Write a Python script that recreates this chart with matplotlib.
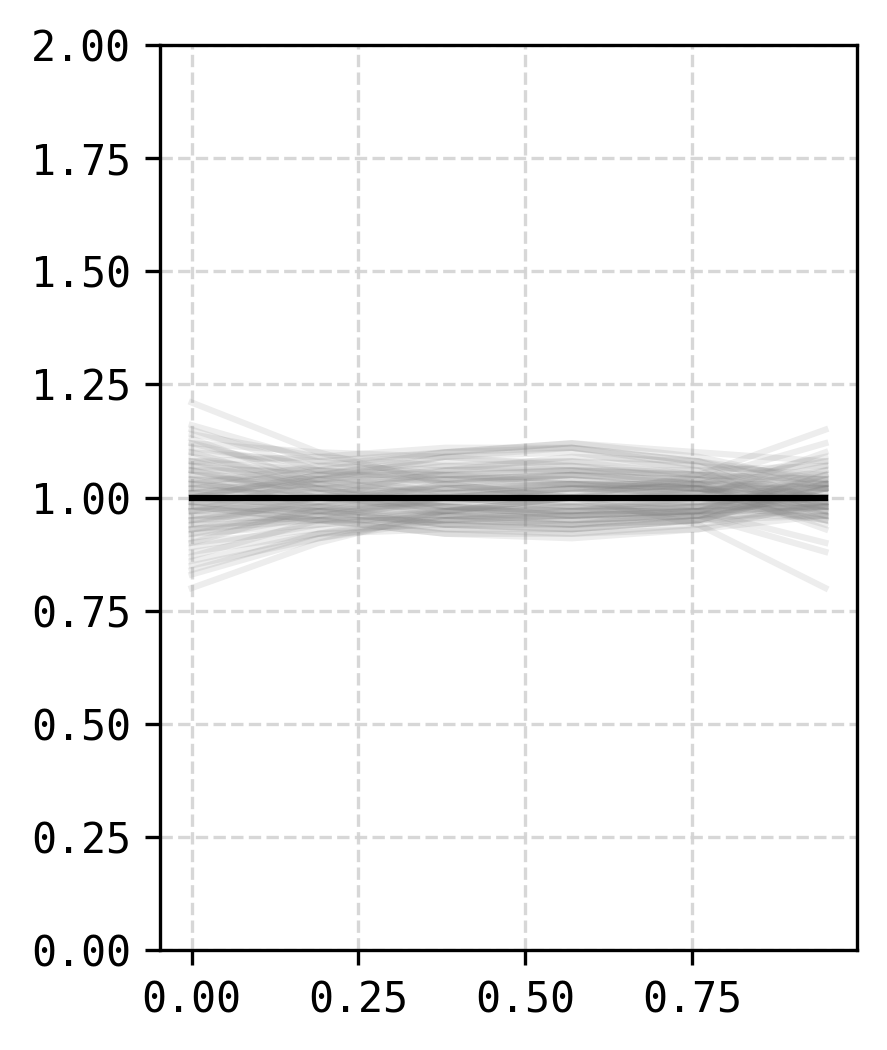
import numpy as np
import matplotlib
matplotlib.use("Agg")
import matplotlib.pyplot as plt

x_knots = [0.0, 0.19, 0.38, 0.57, 0.76, 0.95]

# curve values at each knot (one entry per grey curve)
y_at_000 = [1.21, 0.80, 1.15, 0.83, 1.10, 0.86, 1.05, 0.95, 1.02, 0.97, 1.08, 0.92, 1.12, 0.90, 1.00,
            0.98, 1.06, 0.94, 1.03, 0.99, 1.14, 0.88, 1.01, 0.96, 1.09, 0.91, 1.04, 0.97, 1.07, 0.93,
            1.00, 1.02, 1.16, 0.84, 1.03, 0.98, 1.06, 0.95, 1.00, 0.99, 1.11, 0.89, 1.05, 0.95, 1.08,
            0.92, 1.01, 0.99, 1.13, 0.87, 1.03, 0.97, 1.04, 0.96, 1.07, 0.93, 1.01, 0.99, 1.10, 0.90,
            1.02, 0.98, 0.97, 1.04, 1.08, 0.93, 1.00, 1.06, 0.85, 1.12, 0.94, 1.01]
y_at_019 = [1.10, 0.90, 1.06, 0.91, 1.08, 0.92, 1.04, 0.96, 1.00, 0.99, 1.02, 0.97, 1.05, 0.93, 1.02,
            0.97, 1.06, 0.95, 1.01, 1.00, 1.09, 0.92, 1.03, 0.95, 1.04, 0.96, 1.04, 0.97, 1.03, 0.97,
            0.98, 1.03, 1.08, 0.92, 1.07, 0.95, 1.00, 0.99, 1.05, 0.97, 1.07, 0.94, 1.02, 0.98, 1.06,
            0.94, 1.04, 0.96, 1.03, 0.95, 1.00, 1.00, 1.02, 0.98, 1.05, 0.95, 1.01, 0.99, 1.02, 0.98,
            1.06, 0.95, 1.04, 0.98, 1.09, 0.96, 1.05, 1.01, 0.91, 1.10, 1.00, 0.97]
y_at_038 = [1.03, 0.97, 1.04, 0.96, 1.10, 0.97, 1.06, 0.95, 0.98, 1.01, 0.98, 1.01, 1.01, 0.94, 1.04,
            0.96, 1.05, 0.97, 1.00, 1.02, 1.07, 0.93, 1.05, 0.95, 1.00, 1.00, 1.04, 0.97, 1.02, 0.99,
            0.96, 1.04, 1.05, 0.95, 1.10, 0.92, 0.97, 1.03, 1.08, 0.94, 1.06, 0.96, 1.01, 0.99, 1.03,
            0.97, 1.07, 0.93, 0.98, 1.00, 1.00, 1.00, 1.02, 0.98, 1.05, 0.95, 1.02, 0.98, 0.97, 1.03,
            1.10, 0.92, 1.09, 0.94, 1.11, 0.99, 1.09, 0.96, 0.95, 1.09, 1.06, 0.94]
y_at_057 = [1.00, 1.00, 1.05, 0.98, 1.12, 1.00, 1.07, 0.94, 0.97, 1.02, 0.96, 1.03, 1.00, 0.95, 1.05,
            0.96, 1.03, 0.99, 1.00, 1.03, 1.06, 0.93, 1.06, 0.96, 0.98, 1.02, 1.03, 0.98, 1.02, 1.00,
            0.95, 1.04, 1.04, 0.96, 1.11, 0.92, 0.97, 1.05, 1.08, 0.93, 1.06, 0.96, 1.01, 0.99, 1.00,
            1.00, 1.08, 0.92, 0.96, 1.02, 1.02, 0.98, 1.03, 0.97, 1.06, 0.94, 1.03, 0.97, 0.95, 1.05,
            1.12, 0.91, 1.11, 0.93, 1.11, 1.01, 1.10, 0.94, 0.97, 1.07, 1.09, 0.94]
y_at_076 = [0.94, 1.05, 1.03, 0.99, 1.10, 1.00, 1.05, 0.95, 0.98, 1.01, 0.97, 1.02, 1.01, 0.96, 1.04,
            0.97, 1.00, 1.01, 1.01, 1.02, 1.03, 0.95, 1.06, 0.97, 0.98, 1.02, 1.02, 0.98, 1.01, 0.99,
            0.96, 1.02, 1.02, 0.98, 1.08, 0.94, 1.00, 1.03, 1.05, 0.95, 1.05, 0.96, 1.03, 0.97, 0.98,
            1.02, 1.07, 0.93, 0.97, 1.02, 1.04, 0.96, 1.03, 0.97, 1.05, 0.95, 1.03, 0.97, 0.96, 1.04,
            1.09, 0.93, 1.08, 0.95, 1.07, 1.03, 1.06, 0.96, 0.99, 1.04, 1.08, 0.97]
y_at_095 = [0.80, 1.15, 1.00, 1.02, 1.08, 0.97, 1.03, 0.98, 1.04, 0.96, 1.05, 0.94, 1.07, 0.99, 1.02,
            1.00, 0.95, 1.06, 1.03, 0.99, 0.95, 1.02, 1.07, 0.98, 1.00, 1.00, 1.01, 0.99, 0.98, 0.95,
            1.01, 0.97, 0.99, 1.03, 1.02, 0.98, 1.10, 0.93, 1.00, 1.02, 1.04, 0.96, 1.09, 0.90, 0.98,
            1.02, 1.05, 0.96, 1.03, 0.98, 1.12, 0.88, 1.02, 0.98, 1.04, 0.96, 1.03, 0.97, 1.02, 0.98,
            1.03, 0.99, 0.99, 1.03, 0.97, 1.08, 0.96, 1.05, 1.00, 1.00, 1.04, 1.06]

# reference line
y_ref = [1.0, 1.0, 1.0, 1.0, 1.0, 1.0]

curves = np.array([y_at_000, y_at_019, y_at_038, y_at_057, y_at_076, y_at_095])

plt.rcParams['font.family'] = 'DejaVu Sans Mono'
fig = plt.figure(figsize=(887 / 300, 1050 / 300), dpi=300)
ax = fig.add_axes([0.1804, 0.0952, 0.7858, 0.8619])

ax.plot(x_knots, curves, color='gray', alpha=0.14, lw=1.5)
ax.plot(x_knots, y_ref, color='black', lw=1.5)

ax.set_ylim(0, 2)
ax.set_yticks([0, 0.25, 0.5, 0.75, 1.0, 1.25, 1.5, 1.75, 2.0])
ax.set_xticks([0, 0.25, 0.5, 0.75])
ax.yaxis.set_major_formatter(matplotlib.ticker.FormatStrFormatter('%.2f'))
ax.xaxis.set_major_formatter(matplotlib.ticker.FormatStrFormatter('%.2f'))
ax.grid(True, linestyle='--', color='lightgray', alpha=0.9)
ax.set_axisbelow(True)

fig.savefig('out.png', dpi=300)
